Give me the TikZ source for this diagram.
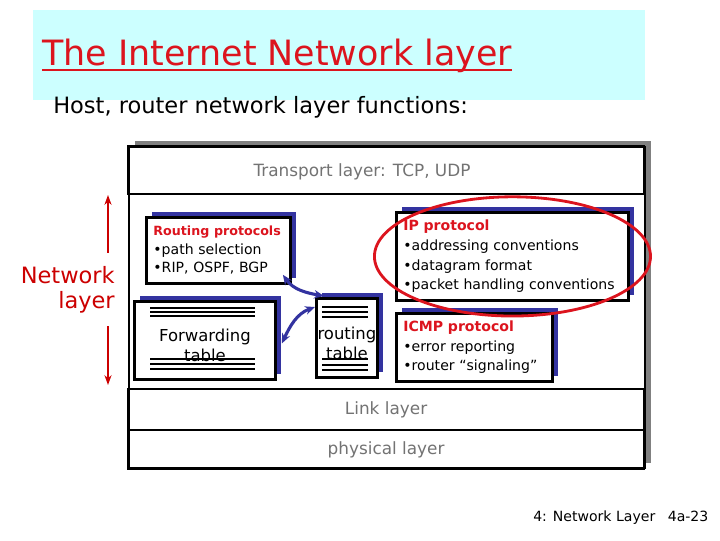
\documentclass[tikz,border=0pt]{standalone}
\usepackage{fontspec}
\setmainfont{DejaVu Sans}
\usetikzlibrary{positioning,shadows,calc,arrows.meta}

\definecolor{titlebg}{RGB}{204,255,255}
\definecolor{titlered}{RGB}{220,20,30}
\definecolor{labelred}{RGB}{204,0,0}
\definecolor{shadowblue}{RGB}{51,51,160}
\definecolor{layergray}{RGB}{115,115,115}
\definecolor{stackshadow}{RGB}{128,128,128}

\newcommand{\boxhead}[1]{{\color{titlered}\bfseries #1}}

\tikzset{
  protobox/.style={draw, line width=2pt, fill=white, inner xsep=5pt, align=left, anchor=north west,
    font=\fontsize{10}{14}\selectfont,
    drop shadow={shadow xshift=4pt, shadow yshift=4pt, fill=shadowblue, opacity=1}},
  tablebox/.style={protobox, align=center, inner xsep=0pt, font=\fontsize{11.7}{14.2}\selectfont},
  layerrow/.style={draw, line width=1.5pt, minimum width=12.9cm, inner sep=0pt, outer sep=0pt,
    text=layergray, font=\fontsize{12}{14}\selectfont},
  tableline/.style={line width=1.2pt},
  flowarrow/.style={<->, >={Stealth[length=7pt,width=6pt]}, draw=shadowblue, line width=2.2pt},
  redarrow/.style={->, >={Stealth[length=7pt,width=5pt]}, draw=labelred, line width=1.5pt}
}

\begin{document}
\begin{tikzpicture}[x=0.025cm, y=0.025cm]
  \useasboundingbox (0,0) rectangle (720,-540);

  % title band
  \node[fill=titlebg, minimum width=15.3cm, minimum height=2.25cm, anchor=north west, inner sep=0pt] (band) at (33,-10) {};
  \node[anchor=base west, inner sep=0pt, text=titlered, font=\fontsize{24.8}{28}\selectfont] (title) at (42,-65) {The Internet Network layer};
  \draw[titlered, line width=1.8pt] ([yshift=-3.6pt]title.base west) -- ([yshift=-3.6pt]title.base east);
  \node[anchor=base west, inner sep=0pt, font=\fontsize{16}{18}\selectfont] (subtitle) at (53,-113) {Host, router network layer functions:};

  % protocol stack
  \node[draw, line width=1.5pt, fill=white, minimum width=12.9cm, minimum height=8.025cm, anchor=north west, inner sep=0pt,
    drop shadow={shadow xshift=4pt, shadow yshift=4pt, fill=stackshadow, opacity=1}] (stack) at (128,-146) {};
  \node[layerrow, minimum height=1.2cm, anchor=north west] (transport) at (stack.north west) {};
  \node[text=layergray, font=\fontsize{12}{14}\selectfont] (tcpudp) at (362,-172) {Transport layer: TCP, UDP};
  \node[layerrow, minimum height=0.975cm, anchor=south west] (physical) at (stack.south west) {physical layer};
  \node[layerrow, minimum height=1.025cm, above=0pt of physical] (link) {Link layer};

  % network layer boxes
  \node[protobox, text width=3.25cm, minimum height=1.65cm, font=\fontsize{10}{13.2}\selectfont] (routproto) at (145,-216)
    {{\fontsize{9}{13.2}\selectfont\boxhead{Routing protocols}}\\\textbullet path selection\\\textbullet RIP, OSPF, BGP};
  \node[protobox, text width=5.45cm, minimum height=2.2cm] (ipproto) at (395,-211)
    {\boxhead{IP protocol}\\\textbullet addressing conventions\\\textbullet datagram format\\\textbullet packet handling conventions};
  \node[protobox, text width=3.55cm, minimum height=1.7cm] (icmp) at (395,-312)
    {\boxhead{ICMP protocol}\\\textbullet error reporting\\\textbullet router “signaling”};
  \node[tablebox, minimum width=3.525cm, minimum height=1.95cm] (fwdtable) at (133,-300) {\rule{0pt}{15.5pt}Forwarding\\table};
  \node[tablebox, minimum width=1.525cm, minimum height=1.975cm] (routtable) at (315,-297) {\rule{0pt}{16.4pt}routing\\table};

  % table rules
  \foreach \dy in {8,12,16,59,64,69}
    \draw[tableline] ($(fwdtable.north west)+(17,-\dy)$) -- ++(105,0);
  \foreach \dy in {10,15,20,62,68,73}
    \draw[tableline] ($(routtable.north west)+(7,-\dy)$) -- ++(46,0);

  \draw[flowarrow] ($(routproto.south east)+(-9,10)$) to[out=-55, in=170] ($(routtable.north west)+(9,1)$);
  \draw[flowarrow] ($(fwdtable.east)+(5,-3)$) to[out=65, in=200] ($(routtable.north west)+(0,-10)$);

  \draw[titlered, line width=2pt] (ipproto.center) ellipse [x radius=3.45cm, y radius=1.49cm];

  % network layer label
  \node[anchor=east, align=right, inner xsep=0pt, inner ysep=9.3pt, text=labelred, font=\fontsize{16}{17.8}\selectfont] (nwlabel) at (115,-289.5) {Network\\layer};
  \coordinate (nwtop) at (108,-195);
  \coordinate (nwbot) at (108,-385);
  \draw[redarrow] (nwlabel.north -| nwtop) -- (nwtop);
  \draw[redarrow] (nwlabel.south -| nwbot) -- (nwbot);

  % footer
  \node[anchor=base west, inner sep=0pt, font=\fontsize{10}{12}\selectfont] (footer) at (533,-521) {4: Network Layer};
  \node[base right=8.5pt of footer, inner sep=0pt, font=\fontsize{10}{12}\selectfont] (slidenum) {4a-23};
\end{tikzpicture}
\end{document}
